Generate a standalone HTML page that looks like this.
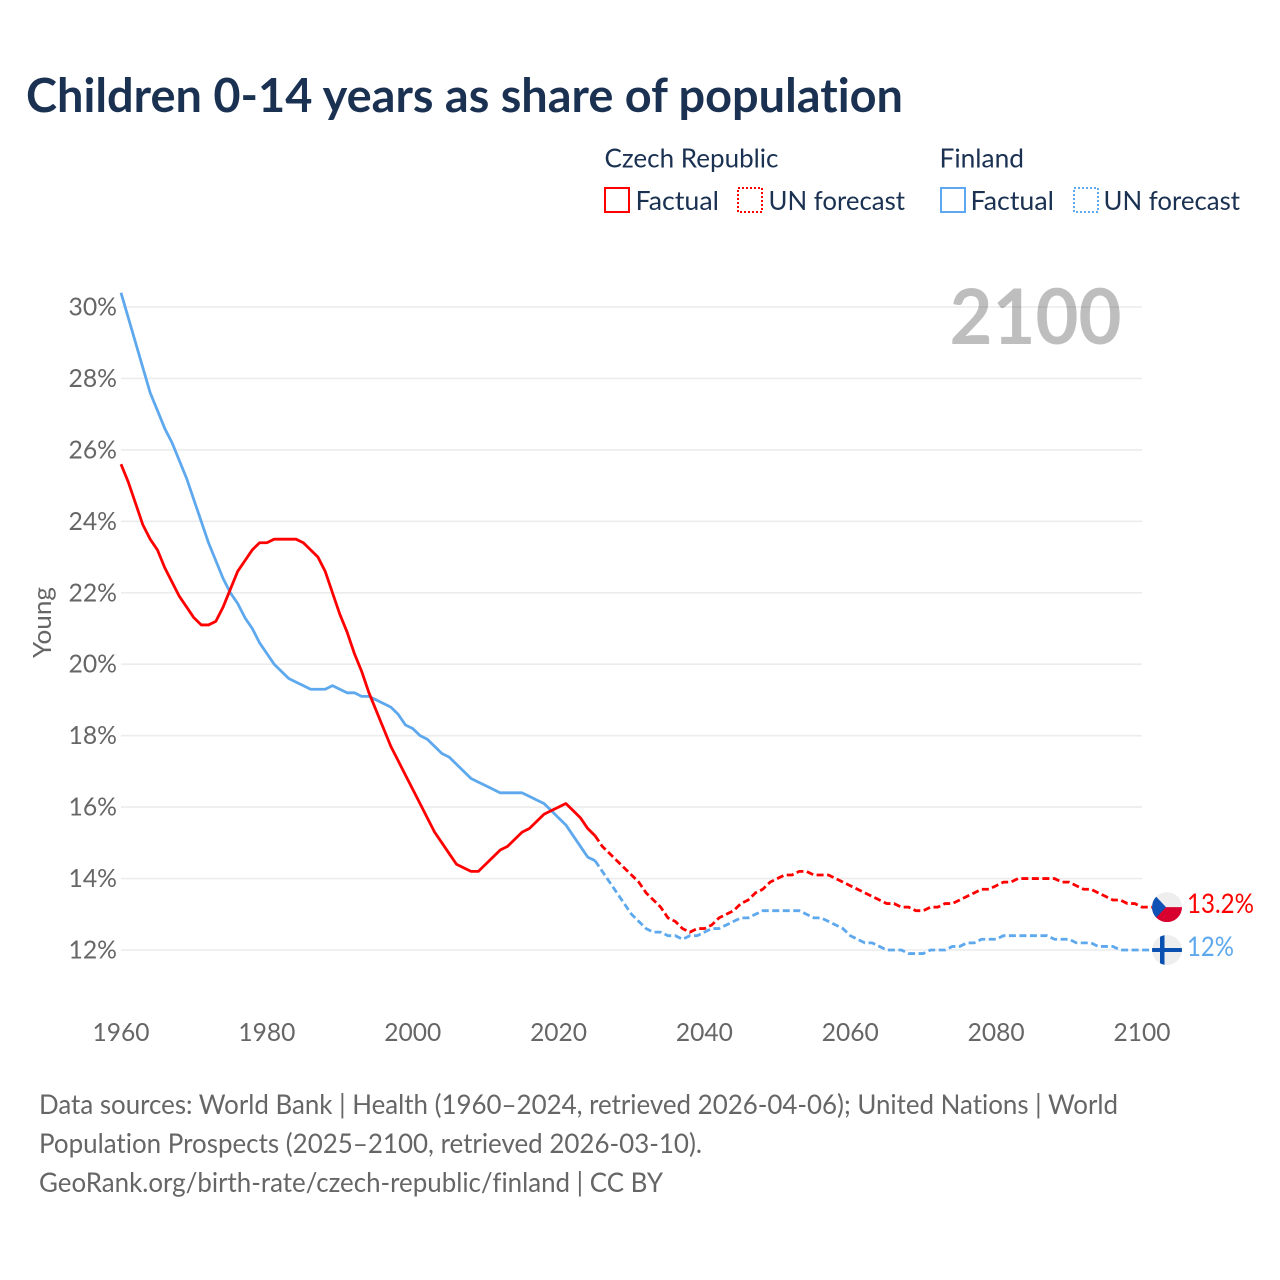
<!DOCTYPE html>
<html lang="en">
<head>
<meta charset="utf-8">
<title>Children 0-14 years as share of population</title>
<style>
html,body{margin:0;padding:0;background:#fff;width:1280px;height:1280px;overflow:hidden}
svg{display:block}
text{font-family:"Lato","Carlito","Liberation Sans",sans-serif;font-variant-ligatures:none;font-feature-settings:"liga" 0,"clig" 0}
</style>
</head>
<body>
<svg id="chart" width="1280" height="1280" viewBox="0 0 1280 1280" xmlns="http://www.w3.org/2000/svg">
  <text x="26" y="112" font-size="46.5" font-weight="700" fill="#1a3152" textLength="877" lengthAdjust="spacingAndGlyphs">Children 0-14 years as share of population</text>

  <g font-size="26.5" fill="#1a3152">
    <text x="604.5" y="167.5" textLength="174" lengthAdjust="spacingAndGlyphs">Czech Republic</text>
    <text x="939.5" y="167.5" textLength="84.5" lengthAdjust="spacingAndGlyphs">Finland</text>
    <rect x="605" y="188" width="24" height="24" fill="none" stroke="#ff0000" stroke-width="2"/>
    <text x="635.5" y="210" textLength="83.5" lengthAdjust="spacingAndGlyphs">Factual</text>
    <rect x="738" y="188" width="24" height="24" fill="none" stroke="#ff0000" stroke-width="2" stroke-dasharray="2 2"/>
    <text x="768.5" y="210" textLength="136.5" lengthAdjust="spacingAndGlyphs">UN forecast</text>
    <rect x="941" y="188" width="24" height="24" fill="none" stroke="#5ea8ee" stroke-width="2"/>
    <text x="970.5" y="210" textLength="83.5" lengthAdjust="spacingAndGlyphs">Factual</text>
    <rect x="1074" y="188" width="24" height="24" fill="none" stroke="#5ea8ee" stroke-width="2" stroke-dasharray="2 2"/>
    <text x="1103.5" y="210" textLength="136.5" lengthAdjust="spacingAndGlyphs">UN forecast</text>
  </g>

  <g id="grid"></g>
  <g id="yticks"></g>
  <g id="xticks"></g>

  <text transform="translate(51 622.5) rotate(-90)" text-anchor="middle" font-size="25.5" fill="#666666" textLength="71" lengthAdjust="spacingAndGlyphs">Young</text>
  <text id="yearLabel" x="949.5" y="344" font-size="77" font-weight="700" fill="#000000" opacity="0.25" textLength="172" lengthAdjust="spacingAndGlyphs">2100</text>

  <g id="series"></g>
  <g id="ends"></g>

  <g font-size="27" fill="#666666">
    <text x="39" y="1114" textLength="1079" lengthAdjust="spacingAndGlyphs">Data sources: World Bank | Health (1960–2024, retrieved 2026-04-06); United Nations | World</text>
    <text x="39" y="1153" textLength="663" lengthAdjust="spacingAndGlyphs">Population Prospects (2025–2100, retrieved 2026-03-10).</text>
    <text x="39" y="1192" textLength="624" lengthAdjust="spacingAndGlyphs">GeoRank.org/birth-rate/czech-republic/finland | CC BY</text>
  </g>
</svg>
<script>
const yTickValues = [12, 14, 16, 18, 20, 22, 24, 26, 28, 30];
const xTickValues = [1960, 1980, 2000, 2020, 2040, 2060, 2080, 2100];
const factualStartYear = 1960;
const forecastStartYear = 2025;
const czechFactual = [25.6,25.1,24.5,23.9,23.5,23.2,22.7,22.3,21.9,21.6,21.3,21.1,21.1,21.2,21.6,22.1,22.6,22.9,23.2,23.4,23.4,23.5,23.5,23.5,23.5,23.4,23.2,23.0,22.6,22.0,21.4,20.9,20.3,19.8,19.2,18.7,18.2,17.7,17.3,16.9,16.5,16.1,15.7,15.3,15.0,14.7,14.4,14.3,14.2,14.2,14.4,14.6,14.8,14.9,15.1,15.3,15.4,15.6,15.8,15.9,16.0,16.1,15.9,15.7,15.4,15.2];
const czechForecast = [15.2,14.9,14.7,14.5,14.3,14.1,13.9,13.6,13.4,13.2,12.9,12.8,12.6,12.5,12.6,12.6,12.7,12.9,13.0,13.1,13.3,13.4,13.6,13.7,13.9,14.0,14.1,14.1,14.2,14.2,14.1,14.1,14.1,14.0,13.9,13.8,13.7,13.6,13.5,13.4,13.3,13.3,13.2,13.2,13.1,13.1,13.2,13.2,13.3,13.3,13.4,13.5,13.6,13.7,13.7,13.8,13.9,13.9,14.0,14.0,14.0,14.0,14.0,14.0,13.9,13.9,13.8,13.7,13.7,13.6,13.5,13.4,13.4,13.3,13.3,13.2];
const finlandFactual = [30.4,29.7,29.0,28.3,27.6,27.1,26.6,26.2,25.7,25.2,24.6,24.0,23.4,22.9,22.4,22.0,21.7,21.3,21.0,20.6,20.3,20.0,19.8,19.6,19.5,19.4,19.3,19.3,19.3,19.4,19.3,19.2,19.2,19.1,19.1,19.0,18.9,18.8,18.6,18.3,18.2,18.0,17.9,17.7,17.5,17.4,17.2,17.0,16.8,16.7,16.6,16.5,16.4,16.4,16.4,16.4,16.3,16.2,16.1,15.9,15.7,15.5,15.2,14.9,14.6,14.5];
const finlandForecast = [14.5,14.2,13.9,13.6,13.3,13.0,12.8,12.6,12.5,12.5,12.4,12.4,12.3,12.4,12.4,12.5,12.6,12.6,12.7,12.8,12.9,12.9,13.0,13.1,13.1,13.1,13.1,13.1,13.1,13.0,12.9,12.9,12.8,12.7,12.6,12.4,12.3,12.2,12.2,12.1,12.0,12.0,12.0,11.9,11.9,11.9,12.0,12.0,12.0,12.1,12.1,12.2,12.2,12.3,12.3,12.3,12.4,12.4,12.4,12.4,12.4,12.4,12.4,12.3,12.3,12.3,12.2,12.2,12.2,12.1,12.1,12.1,12.0,12.0,12.0,12.0];
const czechEndLabel = "13.2%";
const finlandEndLabel = "12%";

const SVGNS = "http://www.w3.org/2000/svg";
function xScale(year){ return 121 + (year - 1960) * (1142 - 121) / 140; }
function yScale(v){ return 950 - (v - 12) * (950 - 307) / 18; }
function mk(tag, attrs){
  const el = document.createElementNS(SVGNS, tag);
  for (const k in attrs) el.setAttribute(k, attrs[k]);
  return el;
}
function linePath(values, startYear, connectorX){
  let d = values.map(function(v, i){
    return (i ? "L" : "M") + xScale(startYear + i).toFixed(2) + " " + yScale(v).toFixed(2);
  }).join("");
  if (connectorX) d += "L" + connectorX + " " + yScale(values[values.length - 1]).toFixed(2);
  return d;
}

const gridG = document.getElementById("grid");
const yG = document.getElementById("yticks");
yTickValues.forEach(function(v){
  const ln = mk("line", {x1: xScale(1960), x2: xScale(2100), y1: yScale(v), y2: yScale(v), stroke: "#ececec", "stroke-width": 1.6});
  
  
  gridG.appendChild(ln);
  const t = mk("text", {x: 117, y: yScale(v) + 8.5, "text-anchor": "end", "font-size": 25.5, fill: "#666666", textLength: 48.5, lengthAdjust: "spacingAndGlyphs"});
  
  
  t.textContent = v + "%";
  yG.appendChild(t);
});
const xG = document.getElementById("xticks");
xTickValues.forEach(function(y){
  const t = mk("text", {x: xScale(y), y: 1041, "text-anchor": "middle", "font-size": 25.5, fill: "#666666", textLength: 57, lengthAdjust: "spacingAndGlyphs"});
  
  
  t.textContent = y;
  xG.appendChild(t);
});

const sG = document.getElementById("series");
const flin = mk("path", {d: linePath(finlandFactual, factualStartYear), fill: "none", stroke: "#5ea8ee", "stroke-width": 2.8, "stroke-linejoin": "round"});


sG.appendChild(flin);
const ffor = mk("path", {d: linePath(finlandForecast, forecastStartYear, 1152), fill: "none", stroke: "#5ea8ee", "stroke-width": 2.8, "stroke-dasharray": "7 3.5"});


sG.appendChild(ffor);
const clin = mk("path", {d: linePath(czechFactual, factualStartYear), fill: "none", stroke: "#ff0000", "stroke-width": 2.8, "stroke-linejoin": "round"});


sG.appendChild(clin);
const cfor = mk("path", {d: linePath(czechForecast, forecastStartYear, 1152), fill: "none", stroke: "#ff0000", "stroke-width": 2.8, "stroke-dasharray": "7 3.5"});


sG.appendChild(cfor);

const eG = document.getElementById("ends");
const cy = yScale(czechForecast[czechForecast.length - 1]);
const fy = yScale(finlandForecast[finlandForecast.length - 1]);
const defs = mk("defs", {});
const cp1 = mk("clipPath", {id: "clipC"});
cp1.appendChild(mk("circle", {cx: 1167, cy: cy, r: 15}));
defs.appendChild(cp1);
const cp2 = mk("clipPath", {id: "clipF"});
cp2.appendChild(mk("circle", {cx: 1167, cy: fy, r: 15}));
defs.appendChild(cp2);
eG.appendChild(defs);

const cFlag = mk("g", {"clip-path": "url(#clipC)"});


cFlag.appendChild(mk("rect", {x: 1152, y: cy - 15, width: 30, height: 15, fill: "#eeeeee"}));
cFlag.appendChild(mk("rect", {x: 1152, y: cy, width: 30, height: 15, fill: "#d7002f"}));
cFlag.appendChild(mk("path", {d: "M1150 " + (cy - 17) + "L1166 " + cy + "L1150 " + (cy + 17) + "Z", fill: "#0f52b5"}));
eG.appendChild(cFlag);

const fFlag = mk("g", {"clip-path": "url(#clipF)"});


fFlag.appendChild(mk("rect", {x: 1152, y: fy - 15, width: 30, height: 30, fill: "#eeeeee"}));
fFlag.appendChild(mk("rect", {x: 1160, y: fy - 15, width: 4.5, height: 30, fill: "#0a50b0"}));
fFlag.appendChild(mk("rect", {x: 1152, y: fy - 2, width: 30, height: 4, fill: "#0a50b0"}));
eG.appendChild(fFlag);

const cLab = mk("text", {x: 1187, y: cy + 6, "font-size": 27, fill: "#ff0000", textLength: 67, lengthAdjust: "spacingAndGlyphs"});


cLab.textContent = czechEndLabel;
eG.appendChild(cLab);
const fLab = mk("text", {x: 1187, y: fy + 6, "font-size": 27, fill: "#5ea8ee", textLength: 47, lengthAdjust: "spacingAndGlyphs"});


fLab.textContent = finlandEndLabel;
eG.appendChild(fLab);
</script>
</body>
</html>
